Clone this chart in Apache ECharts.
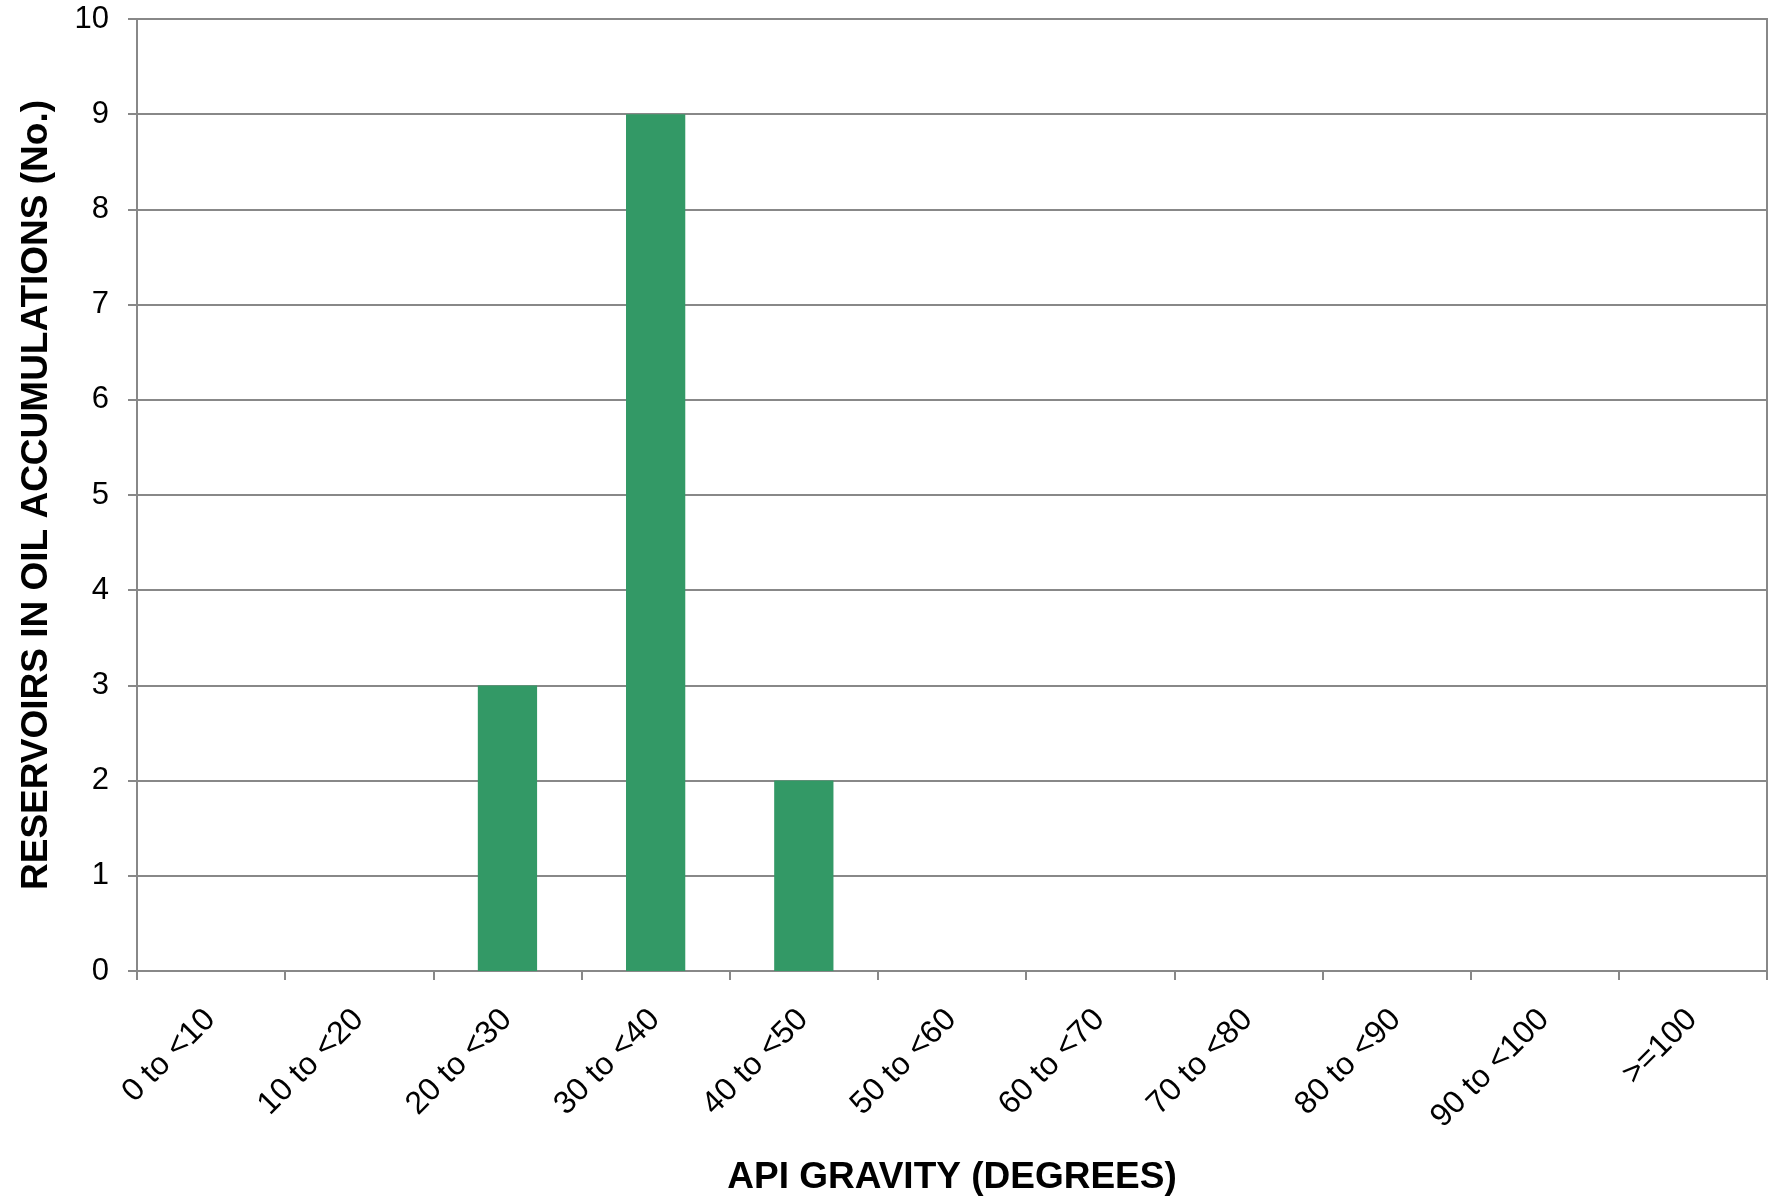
<!DOCTYPE html>
<html>
<head>
<meta charset="utf-8">
<script src="https://cdn.jsdelivr.net/npm/echarts@6/dist/echarts.min.js"></script>
<style>
html,body{margin:0;padding:0;background:#fff;}
#chart{width:1775px;height:1201px;}
</style>
</head>
<body>
<div id="chart"></div>
<script>
const categories = ['0 to <10','10 to <20','20 to <30','30 to <40','40 to <50','50 to <60','60 to <70','70 to <80','80 to <90','90 to <100','>=100'];
const reservoirCounts = [0, 0, 3, 9, 2, 0, 0, 0, 0, 0, 0];
const yTicks = { min: 0, max: 10, interval: 1 };
const xTitle = 'API GRAVITY (DEGREES)';
const yTitle = 'RESERVOIRS IN OIL ACCUMULATIONS (No.)';

const chart = echarts.init(document.getElementById('chart'), null, {renderer: 'canvas'});
const font = '"Liberation Sans", Arial, sans-serif';
const lineColor = '#888888';
chart.setOption({
  animation: false,
  backgroundColor: '#ffffff',
  grid: { left: 137, right: 8, top: 19, bottom: 229, show: true, borderColor: lineColor, borderWidth: 2 },
  xAxis: {
    type: 'category',
    data: categories,
    boundaryGap: true,
    name: xTitle,
    nameLocation: 'middle',
    nameGap: 188,
    nameTextStyle: { fontFamily: font, fontSize: 37, fontWeight: 'bold', color: '#000', verticalAlign: 'top' },
    axisLine: { lineStyle: { color: lineColor, width: 2 } },
    axisTick: { show: true, alignWithLabel: false, length: 9, lineStyle: { color: lineColor, width: 2 } },
    axisLabel: { rotate: 45, margin: 43, padding: [0, 1, 0, 0], fontFamily: font, fontSize: 32, color: '#000', interval: 0 },
    splitLine: { show: false }
  },
  yAxis: {
    type: 'value',
    min: yTicks.min, max: yTicks.max, interval: yTicks.interval,
    name: yTitle,
    nameLocation: 'middle',
    nameGap: 82,
    nameRotate: 90,
    nameTextStyle: { fontFamily: font, fontSize: 37, fontWeight: 'bold', color: '#000' },
    axisLine: { show: true, lineStyle: { color: lineColor, width: 2 } },
    axisTick: { show: true, length: 9, lineStyle: { color: lineColor, width: 2 } },
    axisLabel: { margin: 28, fontFamily: font, fontSize: 31, color: '#000' },
    splitLine: { show: true, lineStyle: { color: lineColor, width: 2 } }
  },
  series: [{
    type: 'bar',
    data: reservoirCounts,
    barWidth: '40%',
    itemStyle: { color: '#339966' }
  }]
});
</script>
</body>
</html>
